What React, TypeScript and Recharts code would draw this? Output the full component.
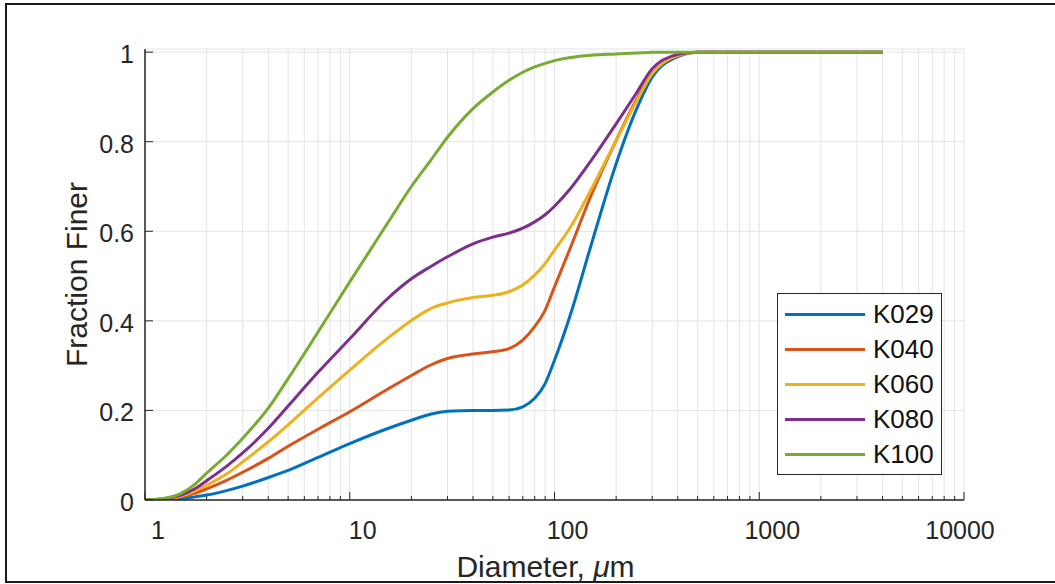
import { LineChart, Line, XAxis, YAxis, CartesianGrid, Legend } from 'recharts';

const FONT = '"Liberation Sans", Arial, Helvetica, sans-serif';
const INK = '#262626';

// particle diameter, um (log axis)
const diameters = [1, 1.25, 1.5, 1.75, 2, 2.5, 3, 4, 5, 7, 10, 15, 20, 25, 30, 40, 50, 60, 70, 80, 90, 100, 120, 150, 200, 250, 300, 400, 500, 700, 1000, 2000, 4000];

const k029 = [0, 0.001, 0.003, 0.007, 0.011, 0.021, 0.031, 0.05, 0.066, 0.095, 0.126, 0.158, 0.178, 0.192, 0.198, 0.2, 0.2, 0.201, 0.208, 0.227, 0.26, 0.312, 0.416, 0.565, 0.751, 0.87, 0.944, 0.99, 1, 1, 1, 1, 1];
const k040 = [0, 0.002, 0.007, 0.015, 0.025, 0.044, 0.062, 0.093, 0.12, 0.158, 0.197, 0.245, 0.278, 0.302, 0.316, 0.326, 0.331, 0.338, 0.357, 0.387, 0.424, 0.476, 0.565, 0.677, 0.803, 0.892, 0.952, 0.992, 1, 1, 1, 1, 1];
const k060 = [0, 0.002, 0.009, 0.02, 0.033, 0.058, 0.085, 0.13, 0.168, 0.228, 0.29, 0.358, 0.401, 0.428, 0.44, 0.452, 0.457, 0.465, 0.48, 0.502, 0.528, 0.558, 0.61, 0.691, 0.803, 0.888, 0.952, 0.993, 1, 1, 1, 1, 1];
const k080 = [0, 0.003, 0.011, 0.025, 0.043, 0.075, 0.105, 0.16, 0.21, 0.285, 0.36, 0.446, 0.494, 0.522, 0.543, 0.572, 0.587, 0.596, 0.607, 0.621, 0.637, 0.656, 0.696, 0.756, 0.84, 0.907, 0.963, 0.995, 1, 1, 1, 1, 1];
const k100 = [0, 0.004, 0.015, 0.035, 0.06, 0.1, 0.138, 0.205, 0.271, 0.375, 0.487, 0.612, 0.7, 0.76, 0.81, 0.874, 0.911, 0.937, 0.955, 0.967, 0.975, 0.981, 0.988, 0.993, 0.996, 0.998, 1, 1, 1, 1, 1, 1, 1];

const SERIES = [
  { key: 'K029', values: k029, color: '#0072BD' },
  { key: 'K040', values: k040, color: '#D95319' },
  { key: 'K060', values: k060, color: '#EDB120' },
  { key: 'K080', values: k080, color: '#7E2F8E' },
  { key: 'K100', values: k100, color: '#77AC30' },
];

const MAJOR_X = [1, 10, 100, 1000, 10000];
const MINOR_MULT = [2, 3, 4, 5, 6, 7, 8, 9];
const X_TICKS = [...MAJOR_X.slice(0, -1).flatMap((d) => [d, ...MINOR_MULT.map((m) => m * d)]), 10000];
const Y_TICKS = [0, 0.2, 0.4, 0.6, 0.8, 1];

const data = diameters.map((d, i) => {
  const row: Record<string, number> = { d };
  SERIES.forEach((s) => (row[s.key] = s.values[i]));
  return row;
});

function BottomTick({ x, y, payload }: any) {
  const v = payload.value;
  const major = MAJOR_X.includes(v);
  const dx = v === 10000 ? -4 : 13;
  return (
    <g>
      <line x1={x} x2={x} y1={y} y2={y - (major ? 8 : 4)} stroke={INK} />
      {major && (
        <text x={x + dx} y={y + 39} textAnchor="middle" fontSize={25} fill={INK} fontFamily={FONT}>
          {v}
        </text>
      )}
    </g>
  );
}

function TopTick({ x, y, payload }: any) {
  const major = MAJOR_X.includes(payload.value);
  return <line x1={x} x2={x} y1={y} y2={y + (major ? 8 : 4)} stroke={INK} />;
}

function LeftTick({ x, y, payload }: any) {
  return (
    <g>
      <line x1={x} x2={x + 8} y1={y} y2={y} stroke={INK} />
      <text x={x - 11} y={y + 2} textAnchor="end" dominantBaseline="central" fontSize={25} fill={INK} fontFamily={FONT}>
        {String(payload.value)}
      </text>
    </g>
  );
}

function RightTick({ x, y }: any) {
  return <line x1={x} x2={x - 8} y1={y} y2={y} stroke={INK} />;
}

function LegendBox({ payload }: any) {
  return (
    <div
      style={{
        width: 165,
        height: 182,
        boxSizing: 'border-box',
        border: `1px solid ${INK}`,
        background: '#fff',
        paddingTop: 3,
        fontFamily: FONT,
      }}
    >
      {(payload || []).map((p: any) => (
        <div key={p.value} style={{ display: 'flex', alignItems: 'center', height: 35 }}>
          <div style={{ width: 80, height: 3, background: p.color, marginLeft: 7 }} />
          <span style={{ marginLeft: 8, fontSize: 26, color: '#111', lineHeight: '35px' }}>{p.value}</span>
        </div>
      ))}
    </div>
  );
}

export default function App() {
  return (
    <div style={{ position: 'absolute', left: 0, top: 0, width: 1055, height: 584, overflow: 'hidden', background: '#fff' }}>
      <div
        style={{
          position: 'absolute',
          left: 5,
          top: 3,
          width: 1100,
          height: 580,
          boxSizing: 'border-box',
          border: '2px solid #1a1a1a',
        }}
      />
      <div style={{ position: 'absolute', left: 0, top: 0 }}>
        <LineChart width={1055} height={584} data={data} margin={{ top: 49, right: 91, bottom: 0, left: 0 }}>
          <CartesianGrid stroke="#e4e4e4" strokeWidth={1} />
          <XAxis
            dataKey="d"
            type="number"
            scale="log"
            domain={[1, 10000]}
            ticks={X_TICKS}
            interval={0}
            height={84}
            tickSize={0}
            tickMargin={0}
            tickLine={false}
            axisLine={{ stroke: INK, strokeWidth: 1.5 }}
            tick={<BottomTick />}
            allowDataOverflow
            label={{
              content: ({ viewBox }: any) => (
                <text
                  x={viewBox.x + viewBox.width / 2 - 9}
                  y={viewBox.y + 77}
                  textAnchor="middle"
                  fontSize={30}
                  fill={INK}
                  fontFamily={FONT}
                >
                  Diameter, <tspan fontStyle="italic">μ</tspan>m
                </text>
              ),
            }}
          />
          <XAxis
            xAxisId="top"
            orientation="top"
            dataKey="d"
            type="number"
            scale="log"
            domain={[1, 10000]}
            ticks={X_TICKS}
            interval={0}
            height={0}
            tickSize={0}
            tickMargin={0}
            tickLine={false}
            axisLine={{ stroke: INK, strokeWidth: 1.5 }}
            tick={<TopTick />}
            allowDataOverflow
          />
          <YAxis
            domain={[0, 1.007]}
            ticks={Y_TICKS}
            interval={0}
            width={145}
            tickSize={0}
            tickMargin={0}
            tickLine={false}
            axisLine={{ stroke: INK, strokeWidth: 1.5 }}
            tick={<LeftTick />}
            allowDataOverflow
            label={{
              content: ({ viewBox }: any) => {
                const cx = viewBox.x + 87;
                const cy = viewBox.y + viewBox.height / 2;
                return (
                  <text
                    transform={`rotate(-90, ${cx}, ${cy})`}
                    x={cx}
                    y={cy}
                    textAnchor="middle"
                    fontSize={30}
                    fill={INK}
                    fontFamily={FONT}
                  >
                    Fraction Finer
                  </text>
                );
              },
            }}
          />
          <YAxis
            yAxisId="right"
            orientation="right"
            domain={[0, 1.007]}
            ticks={Y_TICKS}
            interval={0}
            width={0}
            tickSize={0}
            tickMargin={0}
            tickLine={false}
            axisLine={{ stroke: INK, strokeWidth: 1.5 }}
            tick={<RightTick />}
            allowDataOverflow
          />
          <Legend
            layout="vertical"
            align="center"
            verticalAlign="middle"
            wrapperStyle={{ left: 777, top: 293, width: 165, height: 182 }}
            content={<LegendBox />}
          />
          {SERIES.map((s) => (
            <Line
              key={s.key}
              dataKey={s.key}
              name={s.key}
              type="monotone"
              stroke={s.color}
              strokeWidth={3}
              dot={false}
              isAnimationActive={false}
            />
          ))}
        </LineChart>
      </div>
    </div>
  );
}
